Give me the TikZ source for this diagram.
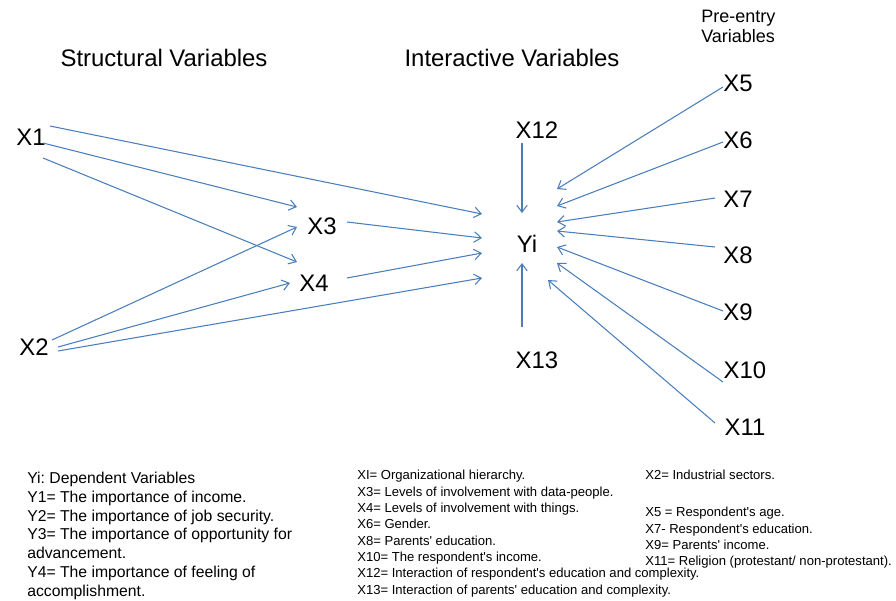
\documentclass[tikz,border=0pt]{standalone}
\usepackage{fontspec}
\setmainfont{Liberation Sans}
\usetikzlibrary{arrows.meta}
\frenchspacing
\newcommand{\aps}{\textquotesingle}
\definecolor{pathblue}{RGB}{74,126,187}
\tikzset{
	var/.style={font=\fontsize{17}{20}\selectfont, inner sep=0pt},
	hdr/.style={font=\fontsize{12.8}{14.2}\selectfont, align=left, anchor=north west, inner sep=0pt},
	arr/.style={draw=pathblue, line width=0.75pt, -{Straight Barb[length=5pt,width=7.5pt]}},
	legL/.style={font=\fontsize{11.2}{13.34}\selectfont, align=left, anchor=north west, inner sep=0pt},
	legS/.style={font=\fontsize{9.3}{11.64}\selectfont, align=left, anchor=north west, inner sep=0pt}
}

\begin{document}
\begin{tikzpicture}[x=0.025cm,y=-0.025cm]
\useasboundingbox (0,0) rectangle (896,600);

\node[var] (hdrS) at (164,58) {Structural Variables};
\node[var] (hdrI) at (512,58) {Interactive Variables};
\node[hdr] (hdrP) at (701,10) {Pre-entry\\Variables};

\node[var] (X1) at (31,137) {X1};
\node[var] (X2) at (34,347) {X2};
\node[var] (X3) at (322,226) {X3};
\node[var] (X4) at (314,283) {X4};
\node[var] (Yi) at (527,244) {Yi};
\node[var] (X12) at (537,130) {X12};
\node[var] (X13) at (537,360) {X13};
\foreach \n/\x/\y in {5/738/83,6/738/140,7/738/199,8/738/255,9/738/312,10/745/370,11/745/427}
	\node[var] (X\n) at (\x,\y) {X\n};

% structural paths
\draw[arr] ([shift={(19,-11)}]X1.center) -- ([shift={(-45,-30)}]Yi.center);
\draw[arr] ([shift={(12,6)}]X1.center) -- ([shift={(-25,-19)}]X3.center);
\draw[arr] ([shift={(12,21)}]X1.center) -- ([shift={(-17,-21)}]X4.center);
\draw[arr] ([shift={(18,-7)}]X2.center) -- ([shift={(-25,1)}]X3.center);
\draw[arr] ([shift={(24,0)}]X2.center) -- ([shift={(-24,0)}]X4.center);
\draw[arr] ([shift={(24,4)}]X2.center) -- ([shift={(-45,34)}]Yi.center);
\draw[arr] ([shift={(25,-4)}]X3.center) -- ([shift={(-45,-6)}]Yi.center);
\draw[arr] ([shift={(33,-5)}]X4.center) -- ([shift={(-45,9)}]Yi.center);

% interactive paths
\draw[arr] ([shift={(-15,13)}]X12.center) -- ([shift={(-5,-31)}]Yi.center);
\draw[arr] ([shift={(-15,-33)}]X13.center) -- ([shift={(-5,19)}]Yi.center);

% pre-entry paths
\foreach \n/\sx/\sy/\tx/\ty in {5/-15/4/30/-55,6/-15/2/30/-38,7/-23/-1/30/-22,8/-23/-8/30/-13,9/-15/-1/30/3,10/-22/12/30/19,11/-30/-4/21/36}
	\draw[arr] ([shift={(\sx,\sy)}]X\n.center) -- ([shift={(\tx,\ty)}]Yi.center);

\node[legL] (legY) at (27,472) {Yi: Dependent Variables\\Y1= The importance of income.\\Y2= The importance of job security.\\Y3= The importance of opportunity for\\advancement.\\Y4= The importance of feeling of\\accomplishment.};
\node[legS] (legX) at (357,470) {XI= Organizational hierarchy.\\X3= Levels of involvement with data-people.\\X4= Levels of involvement with things.\\X6= Gender.\\X8= Parents\aps{} education.\\X10= The respondent\aps{}s income.\\X12= Interaction of respondent\aps{}s education and complexity.\\X13= Interaction of parents\aps{} education and complexity.};
\node[legS] (legXtwo) at (645,470) {X2= Industrial sectors.};
\node[legS] (legXpre) at (645,507) {X5 = Respondent\aps{}s age.\\X7- Respondent\aps{}s education.\\X9= Parents\aps{} income.\\X11= Religion (protestant/ non-protestant).};
\end{tikzpicture}
\end{document}
